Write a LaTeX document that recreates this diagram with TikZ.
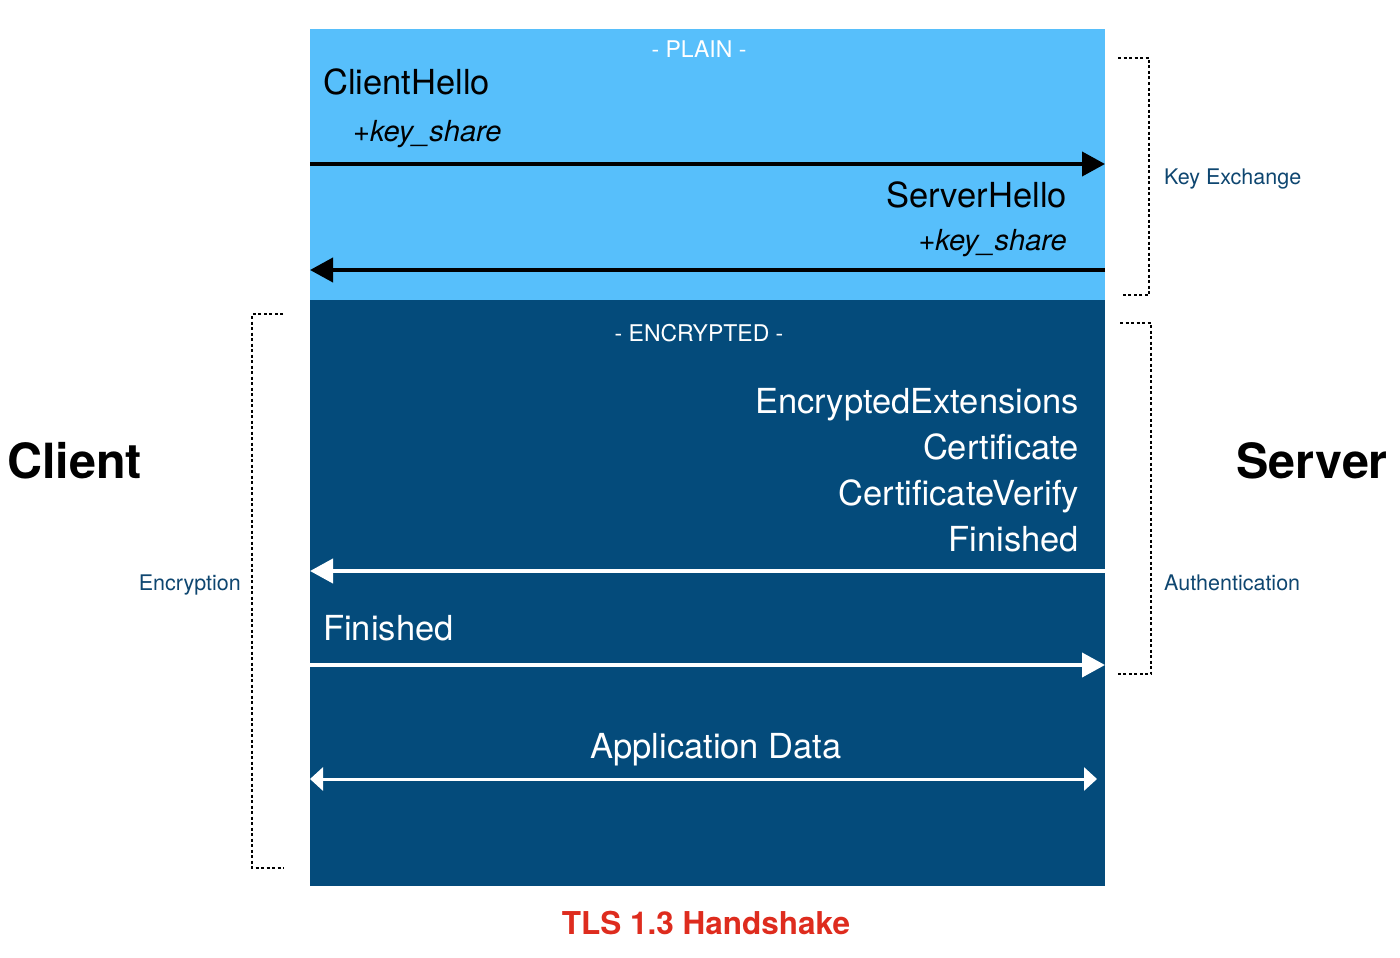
\documentclass[tikz,border=0pt]{standalone}
\usepackage{fontspec}
\setmainfont{TeX Gyre Heros}
\usetikzlibrary{arrows.meta}
\definecolor{plainblue}{RGB}{87,191,251}
\definecolor{cryptblue}{RGB}{4,75,123}
\definecolor{labelblue}{RGB}{14,70,112}
\definecolor{titlered}{RGB}{222,44,30}
\tikzset{
  msg/.style={font=\fontsize{34.5}{40}\selectfont, inner sep=0pt},
  share/.style={font=\fontsize{29}{34}\selectfont\itshape, inner sep=0pt},
  tag/.style={font=\fontsize{21.5}{25}\selectfont, inner sep=0pt},
  phase/.style={font=\fontsize{23}{27}\selectfont, text=white, inner sep=0pt},
  peer/.style={font=\fontsize{48.5}{56}\selectfont\bfseries, inner sep=0pt},
  bracket/.style={draw=black, line width=2.4pt, dash pattern=on 3pt off 2.5pt},
  flow/.style={line width=4pt, -{Triangle[length=23pt,width=24pt]}},
}
\begin{document}
\begin{tikzpicture}[x=1pt,y=-1pt]
\useasboundingbox (0,0) rectangle (1400,958);
\fill[plainblue] (310,29) rectangle (1105,300); % plain phase
\fill[cryptblue] (310,300) rectangle (1105,886); % encrypted phase
\coordinate (cl1) at (310,164); \coordinate (sv1) at (1105,164);
\coordinate (cl2) at (310,270); \coordinate (sv2) at (1105,270);
\coordinate (cl3) at (310,571); \coordinate (sv3) at (1105,571);
\coordinate (cl4) at (310,665); \coordinate (sv4) at (1105,665);
\coordinate (cl5) at (310,779); \coordinate (sv5) at (1097,779);
\node[phase, anchor=base] (plain) at (699,58) {- PLAIN -};
\node[phase, anchor=base] (crypt) at (699,341) {- ENCRYPTED -};
% client hello
\node[msg, anchor=base west] (chello) at (323,94) {ClientHello};
\node[share, anchor=base west] (cshare) at (353,141) {+key\_share};
\draw[flow] (cl1) -- (sv1);
% server hello
\node[msg, anchor=base east] (shello) at (1067,207) {ServerHello};
\node[share, anchor=base east] (sshare) at (1067,250) {+key\_share};
\draw[flow] (sv2) -- (cl2);
% server auth
\node[msg, text=white, anchor=base east] (encext) at (1079,413) {EncryptedExtensions};
\node[msg, text=white, anchor=base east] (cert) at (1079,459) {Certificate};
\node[msg, text=white, anchor=base east] (certvfy) at (1079,505) {CertificateVerify};
\node[msg, text=white, anchor=base east] (sfin) at (1079,551) {Finished};
\draw[flow, white] (sv3) -- (cl3);
% client finished
\node[msg, text=white, anchor=base west] (cfin) at (323,640) {Finished};
\draw[flow, white] (cl4) -- (sv4);
% app data
\node[msg, text=white, anchor=base] (appdata) at (716,758) {Application Data};
\draw[white, line width=3pt, {Triangle[length=13pt,width=23pt]}-{Triangle[length=13pt,width=23pt]}] (cl5) -- (sv5);
% peers
\node[peer, anchor=base west] (client) at (7,478) {Client};
\node[peer, anchor=base east] (server) at (1388,478) {Server};
% brackets
\draw[bracket] (1118,58) -- (1149,58) -- (1149,295) -- (1122,295);
\node[tag, text=labelblue, anchor=base west] (keyx) at (1164,184) {Key Exchange};
\draw[bracket] (1120,323) -- (1151,323) -- (1151,674) -- (1117,674);
\node[tag, text=labelblue, anchor=base west] (authn) at (1164,590) {Authentication};
\draw[bracket] (283,314) -- (252,314) -- (252,868) -- (284,868);
\node[tag, text=labelblue, anchor=base east] (encr) at (241,590) {Encryption};
% title
\node[font=\fontsize{31.5}{36}\selectfont\bfseries, text=titlered, inner sep=0pt, anchor=base] (title) at (706,934) {TLS 1.3 Handshake};
\end{tikzpicture}
\end{document}
